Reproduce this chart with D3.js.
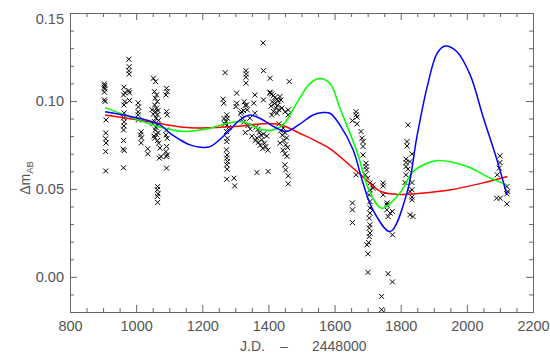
<!DOCTYPE html>
<html><head><meta charset="utf-8">
<script src="https://cdn.jsdelivr.net/npm/d3@7"></script>
<style>body{margin:0;background:#fff}svg{display:block}</style>
</head><body>
<svg id="c" width="550" height="354"></svg>
<script>
// ---- data ----
const xMajorTicks = [800, 1000, 1200, 1400, 1600, 1800, 2000, 2200];
const yMajorTicks = [0.00, 0.05, 0.10, 0.15];
const xTitleParts = ["J.D.", "\u2013", "2448000"];

// observations: [J.D. - 2448000, delta m_AB]
const observations = [
 [904,0.1097],[905,0.1088],[904,0.1078],[905,0.1068],[904,0.1050],[904,0.1006],[906,0.0997],[909,0.0892],[908,0.0818],[908,0.0785],[909,0.0761],[908,0.0712],[908,0.0602],
 [963,0.1078],[966,0.1047],[962,0.1034],[966,0.0996],[963,0.0977],[964,0.0932],[962,0.0904],[964,0.0881],[963,0.0858],[962,0.0835],[962,0.0775],[961,0.0726],[964,0.0718],[962,0.0620],
 [978,0.1237],[979,0.1195],[978,0.1172],[979,0.1153],[978,0.1059],[980,0.1047],[980,0.1002],
 [1006,0.0989],[1007,0.0966],[1006,0.0938],[1006,0.0921],[1007,0.0892],
 [1015,0.0824],[1013,0.0807],[1016,0.0790],[1015,0.0762],[1035,0.0728],[1035,0.0699],
 [1052,0.1129],[1059,0.1110],[1055,0.1053],[1062,0.1034],[1058,0.1016],[1064,0.0996],[1056,0.0977],[1062,0.0959],[1058,0.0939],[1064,0.0921],[1060,0.0902],[1055,0.0883],[1063,0.0864],[1058,0.0835],[1062,0.0807],[1056,0.0788],[1065,0.0775],[1072,0.0732],[1075,0.0684],[1070,0.0675],
 [1048,0.0950],[1050,0.0870],[1052,0.0925],[1066,0.0945],[1068,0.0890],[1060,0.0850],[1066,0.0820],[1054,0.0800],[1068,0.0760],
 [1065,0.0513],[1064,0.0495],[1066,0.0472],[1064,0.0457],[1065,0.0423],
 [1092,0.1072],[1094,0.1053],[1090,0.1034],[1092,0.0939],[1094,0.0921],[1092,0.0835],[1090,0.0807],[1094,0.0788],[1092,0.0741],[1090,0.0712],[1094,0.0693],[1091,0.0684],[1092,0.0618],
 [1269,0.1161],[1263,0.1010],[1265,0.0987],
 [1274,0.0921],[1276,0.0902],[1272,0.0883],[1275,0.0864],[1273,0.0826],[1276,0.0788],[1274,0.0769],[1273,0.0722],[1275,0.0693],[1274,0.0675],[1276,0.0655],[1274,0.0637],[1275,0.0612],[1274,0.0555],
 [1266,0.0900],[1268,0.0870],[1280,0.0850],
 [1296,0.0561],[1298,0.0517],
 [1304,0.1044],[1304,0.0987],[1302,0.0968],
 [1319,0.0939],[1316,0.0930],[1321,0.0902],
 [1332,0.1172],[1333,0.1153],[1332,0.1135],[1332,0.1101],[1334,0.0977],[1336,0.0949],
 [1327,0.0995],[1330,0.0975],[1325,0.0945],
 [1344,0.0902],[1325,0.0880],[1338,0.0860],[1345,0.0840],[1330,0.0820],[1350,0.0800],
 [1359,0.1034],[1356,0.0987],[1359,0.0930],
 [1384,0.1330],[1385,0.1172],[1405,0.1129],[1463,0.1110],
 [1365,0.0593],[1399,0.0599],
 [1362,0.0850],[1368,0.0838],[1372,0.0820],[1378,0.0805],[1365,0.0790],[1380,0.0780],[1370,0.0765],[1388,0.0760],[1375,0.0748],[1392,0.0740],[1383,0.0730],[1398,0.0720],[1360,0.0775],[1395,0.0800],[1385,0.0812],
 [1385,0.1006],[1405,0.1044],
 [1405,0.1050],[1410,0.1040],[1415,0.1030],[1420,0.1020],[1425,0.1010],[1430,0.1000],[1412,0.0995],[1418,0.0985],[1428,0.0975],[1408,0.0970],[1422,0.0960],[1432,0.0950],[1415,0.0940],[1426,0.0930],[1410,0.0920],[1435,0.1025],[1438,0.1005],
 [1432,0.0870],[1440,0.0860],[1445,0.0845],[1437,0.0830],[1450,0.0820],[1442,0.0805],[1455,0.0790],[1447,0.0775],[1435,0.0760],[1452,0.0750],[1458,0.0735],[1444,0.0720],[1450,0.0700],[1456,0.0685],
 [1441,0.0960],[1450,0.0938],[1460,0.0949],[1460,0.0921],
 [1450,0.0637],[1452,0.0608],[1460,0.0574],[1460,0.0529],
 [1654,0.0420],[1654,0.0381],[1654,0.0309],
 [1665,0.0939],[1665,0.0921],[1668,0.0908],[1654,0.0888],[1668,0.0870],
 [1680,0.0826],[1683,0.0788],[1686,0.0769],[1686,0.0741],[1686,0.0693],[1665,0.0580],
 [1695,0.0646],[1695,0.0627],[1697,0.0608],[1693,0.0580],[1700,0.0561],
 [1707,0.0533],[1707,0.0495],[1705,0.0466],[1707,0.0428],[1707,0.0391],[1707,0.0362],[1705,0.0334],[1707,0.0296],[1705,0.0277],[1707,0.0249],[1705,0.0229],[1703,0.0195],[1698,0.0182],
 [1701,0.0131],[1701,0.0025],
 [1742,-0.0111],[1742,-0.0187],
 [1747,0.0533],[1747,0.0517],[1747,0.0466],[1759,0.0420],[1775,0.0372],[1762,0.0343],[1775,0.0239],[1762,0.0018],[1775,-0.0029],
 [1716,0.0523],[1716,0.0504],[1758,0.0409],[1758,0.0381],[1768,0.0362],
 [1822,0.0864],[1819,0.0769],[1819,0.0744],[1834,0.0699],[1816,0.0669],[1816,0.0650],[1816,0.0627],[1828,0.0655],[1813,0.0536],[1834,0.0536],[1834,0.0495],[1834,0.0453],[1834,0.0438],[1828,0.0353],[1837,0.0343],[1816,0.0580],[1822,0.0612],[1828,0.0485],
 [2100,0.0688],[2100,0.0650],[2098,0.0618],[2092,0.0580],[2090,0.0447],[2101,0.0447],[2121,0.0513],[2124,0.0485],[2121,0.0472],[2121,0.0415]
];

// fitted curves: [J.D. - 2448000, delta m_AB]
const redFit = [
 [906,0.0920],[1012,0.0890],[1100,0.0862],[1164,0.0847],[1300,0.0855],[1425,0.0869],
 [1505,0.0807],[1547,0.0769],[1588,0.0726],[1679,0.0580],[1740,0.0485],[1800,0.0468],
 [1860,0.0475],[1951,0.0495],[2040,0.0530],[2123,0.0570]
];
const greenFit = [
 [906,0.0962],[1012,0.0888],[1072,0.0852],[1142,0.0826],[1193,0.0835],[1223,0.0845],
 [1284,0.0876],[1323,0.0882],[1375,0.0839],[1414,0.0835],[1444,0.0864],[1486,0.0989],
 [1526,0.1100],[1556,0.1128],[1586,0.1100],[1616,0.0960],[1668,0.0710],[1705,0.0490],
 [1743,0.0390],[1798,0.0478],[1837,0.0598],[1880,0.0646],[1913,0.0661],[2001,0.0627],
 [2061,0.0570],[2121,0.0523]
];
const blueFit = [
 [906,0.0939],[1012,0.0900],[1072,0.0864],[1102,0.0817],[1133,0.0779],[1163,0.0750],
 [1193,0.0737],[1223,0.0740],[1274,0.0817],[1314,0.0892],[1344,0.0920],[1375,0.0900],
 [1425,0.0845],[1455,0.0826],[1496,0.0870],[1535,0.0920],[1565,0.0934],[1586,0.0930],
 [1616,0.0864],[1656,0.0722],[1686,0.0533],[1716,0.0380],[1768,0.0258],[1819,0.0478],
 [1849,0.0797],[1880,0.1080],[1910,0.1270],[1934,0.1312],[1970,0.1280],[2010,0.1148],
 [2049,0.0910],[2091,0.0665],[2121,0.0466]
];

// ---- drawing ----
const svg = d3.select("#c");
const L = 70, R = 533, T = 13, B = 312;
const x = d3.scaleLinear().domain([800, 2200]).range([L, R]);
const y = d3.scaleLinear().domain([-0.02, 0.15]).range([B, T]);
const axisColor = "#666", textColor = "#555";
const font = "'Liberation Sans', Arial, sans-serif";

const xMinor = d3.range(800, 2201, 50).filter(v => v % 200 !== 0);
const yMinor = d3.range(-0.02, 0.1501, 0.01).map(v => +v.toFixed(2)).filter(v => Math.round(v * 100) % 5 !== 0);

function styleAxis(g) {
  g.selectAll("path.domain").attr("stroke", axisColor).attr("stroke-width", 1);
  g.selectAll(".tick line").attr("stroke", axisColor);
  g.selectAll("text").attr("fill", textColor).style("font-family", font).style("font-size", "14.5px");
}

// bottom
svg.append("g").attr("transform", `translate(0,${B})`)
  .call(d3.axisBottom(x).tickValues(xMajorTicks).tickSizeInner(-7).tickSizeOuter(0).tickPadding(9).tickFormat(d3.format("d")))
  .call(styleAxis);
svg.append("g").attr("transform", `translate(0,${B})`)
  .call(d3.axisBottom(x).tickValues(xMinor).tickSizeInner(-4).tickSizeOuter(0).tickFormat(""))
  .call(styleAxis);
// top
svg.append("g").attr("transform", `translate(0,${T})`)
  .call(d3.axisTop(x).tickValues(xMajorTicks).tickSizeInner(-7).tickSizeOuter(0).tickFormat(""))
  .call(styleAxis);
svg.append("g").attr("transform", `translate(0,${T})`)
  .call(d3.axisTop(x).tickValues(xMinor).tickSizeInner(-4).tickSizeOuter(0).tickFormat(""))
  .call(styleAxis);
// left
const leftAxis = svg.append("g").attr("transform", `translate(${L},0)`)
  .call(d3.axisLeft(y).tickValues(yMajorTicks).tickSizeInner(-7).tickSizeOuter(0).tickPadding(6).tickFormat(d3.format(".2f")))
  .call(styleAxis);
// the top label sits a little below its tick in the reference
leftAxis.selectAll(".tick text").filter(d => d === 0.15).attr("dy", "0.7em");
svg.append("g").attr("transform", `translate(${L},0)`)
  .call(d3.axisLeft(y).tickValues(yMinor).tickSizeInner(-4).tickSizeOuter(0).tickFormat(""))
  .call(styleAxis);
// right
svg.append("g").attr("transform", `translate(${R},0)`)
  .call(d3.axisRight(y).tickValues(yMajorTicks).tickSizeInner(-7).tickSizeOuter(0).tickFormat(""))
  .call(styleAxis);
svg.append("g").attr("transform", `translate(${R},0)`)
  .call(d3.axisRight(y).tickValues(yMinor).tickSizeInner(-4).tickSizeOuter(0).tickFormat(""))
  .call(styleAxis);

// axis titles
const xt = svg.append("g").attr("fill", textColor).style("font-family", font).style("font-size", "14px");
xt.append("text").attr("x", 240).attr("y", 351).text(xTitleParts[0]);
xt.append("text").attr("x", 280).attr("y", 351).text(xTitleParts[1]);
xt.append("text").attr("x", 312).attr("y", 351).text(xTitleParts[2]);

const yl = svg.append("text")
  .attr("transform", "translate(30,178) rotate(-90)")
  .attr("text-anchor", "middle")
  .attr("fill", textColor).style("font-family", font).style("font-size", "14px");
yl.append("tspan").text("\u0394m");
yl.append("tspan").attr("baseline-shift", "-3").style("font-size", "9.5px").text("AB");

// data points (x markers)
const s = 2.5;
svg.append("g").selectAll("path").data(observations).join("path")
  .attr("d", d => {
    const cx = x(d[0]), cy = y(d[1]);
    return `M${cx - s},${cy - s}L${cx + s},${cy + s}M${cx - s},${cy + s}L${cx + s},${cy - s}`;
  })
  .attr("stroke", "#000").attr("stroke-width", 1).attr("fill", "none");

// fit curves
const line = d3.line().x(d => x(d[0])).y(d => y(d[1])).curve(d3.curveCatmullRom.alpha(0.5));
[[redFit, "#ff0000"], [greenFit, "#00ff00"], [blueFit, "#0000ff"]].forEach(([data, c]) => {
  svg.append("path").datum(data).attr("d", line)
    .attr("fill", "none").attr("stroke", c).attr("stroke-width", 1.5);
});
</script>
</body></html>
